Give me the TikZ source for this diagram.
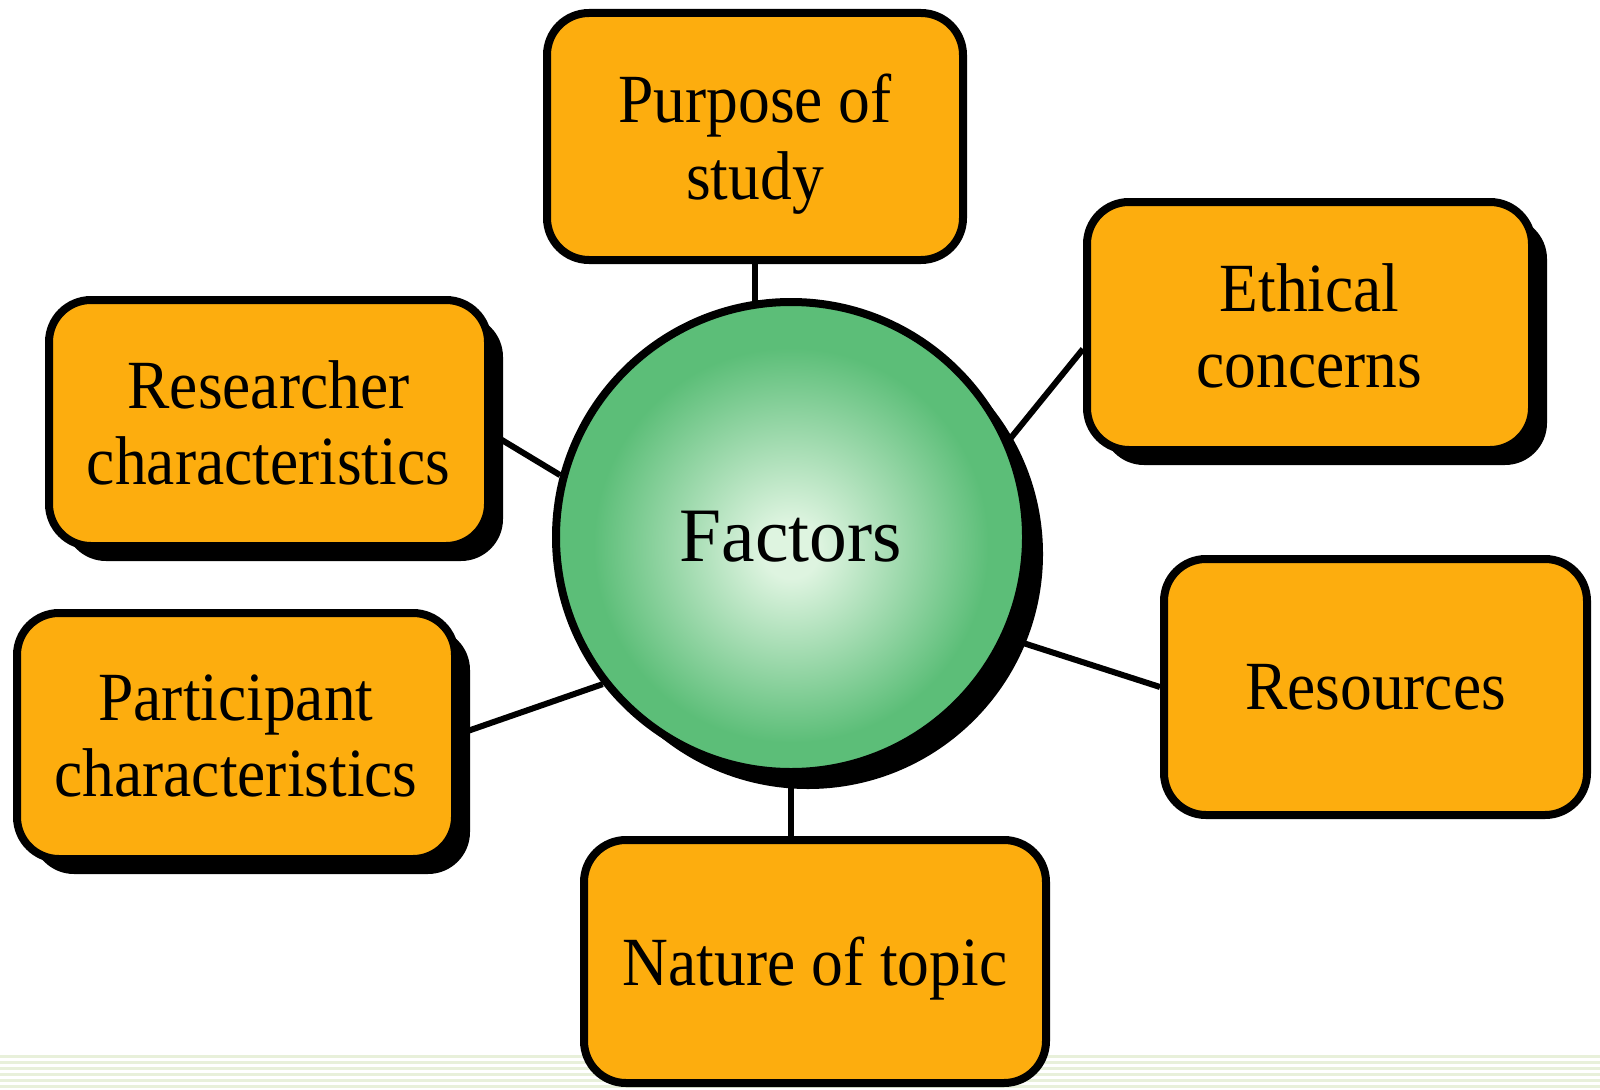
\documentclass[tikz,border=0pt]{standalone}
\usepackage{fontspec}
\setmainfont{Liberation Serif}[FakeStretch=0.92]
\newfontfamily\factorsfont{Liberation Serif}[FakeStretch=0.98]
\usetikzlibrary{shadows,backgrounds,calc}
\definecolor{boxorange}{RGB}{253,173,14}
\definecolor{ballgreen}{RGB}{92,190,120}
\definecolor{ballcenter}{RGB}{222,244,224}
\definecolor{stripegreen}{RGB}{232,240,218}
\pgfdeclareradialshading{factorball}{\pgfpoint{0bp}{-1.5bp}}{color(0bp)=(ballcenter); color(3bp)=(ballcenter); color(21bp)=(ballgreen); color(25bp)=(ballgreen); color(50bp)=(ballgreen)}
\begin{document}
\begin{tikzpicture}[x=1pt,y=-1pt,
  factorbox/.style={draw=black, line width=8pt, fill=boxorange, rounded corners=42pt,
    inner sep=0pt, align=center, font=\fontsize{69pt}{76.5pt}\selectfont},
  boxshadow/.style={drop shadow={shadow xshift=15pt, shadow yshift=-15pt, fill=black, opacity=1}},
  hub/.style={circle, draw=black, line width=8pt, shading=factorball, minimum size=470pt,
    inner sep=0pt, font=\factorsfont\fontsize{77pt}{80pt}\selectfont,
    drop shadow={shadow xshift=17pt, shadow yshift=-17pt, fill=black, opacity=1}},
  link/.style={draw=black, line width=6pt}
]
\useasboundingbox (0,0) rectangle (1600,1089);

\node[factorbox, minimum width=416pt, minimum height=247pt] (purpose) at (755,136.5) {Purpose of\\\smash{study}};
\node[factorbox, boxshadow, minimum width=445pt, minimum height=248pt] (ethical) at (1309.5,326) {Ethical\\concerns};
\node[factorbox, boxshadow, minimum width=439pt, minimum height=246pt] (researcher) at (268.5,423) {Researcher\\characteristics};
\node[factorbox, boxshadow, minimum width=438pt, minimum height=246pt] (participant) at (236,736) {Participant\\characteristics};
\node[factorbox, minimum width=423pt, minimum height=256pt] (resources) at (1375.5,687) {Resources};
\node[factorbox, text depth=0pt, minimum width=462pt, minimum height=243pt] (nature) at (815,961.5) {Nature of topic};
\node[hub] (factors) at (791,537) {\raisebox{-8pt}{Factors}};

\begin{pgfonlayer}{background}
  \foreach \yy in {1055,1061,...,1087} \fill[stripegreen] (0,\yy) rectangle (1600,\yy+3);
  \draw[link] (purpose.south) -- (purpose.south |- factors.center);
  \draw[link] (factors.center) -- (factors.center |- nature.north);
  \draw[link] ([yshift=-11pt]researcher.east) -- (factors.165);
  \draw[link] ([yshift=2pt]participant.east) -- (factors.218);
  \draw[link] ([yshift=-23pt]ethical.west) -- (factors.24);
  \draw[link] (resources.west) -- (factors.-25);
\end{pgfonlayer}
\end{tikzpicture}
\end{document}
